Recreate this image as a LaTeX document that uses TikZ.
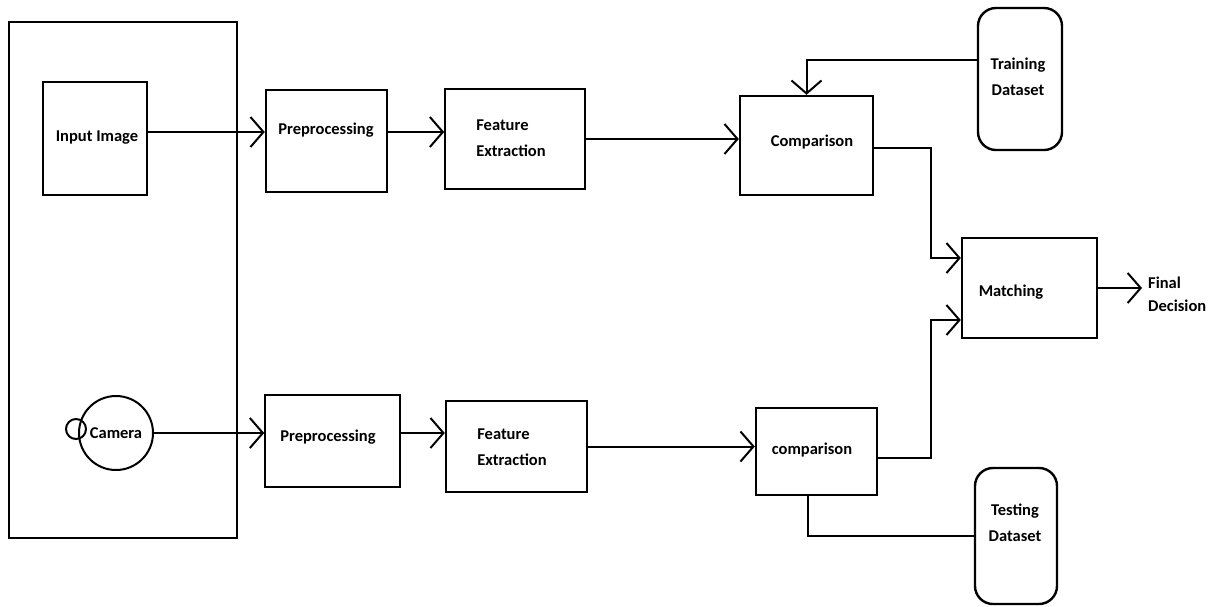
\documentclass[tikz,border=0pt]{standalone}
\usepackage{fontspec}
\setmainfont{Carlito}
\usetikzlibrary{arrows.meta,calc}
\begin{document}
\begin{tikzpicture}[x=1pt,y=-1pt,
 box/.style={draw,line width=2.4pt,inner sep=0pt},
 db/.style={draw,line width=2.4pt,rounded corners=18pt,inner sep=0pt},
 lbl/.style={font=\fontsize{16.5}{26}\selectfont\bfseries, align=left, inner sep=0pt},
 conn/.style={line width=2pt},
 arr/.style={line width=2pt,-{Straight Barb[length=13pt,width=30pt,line width=2pt]}}]
\useasboundingbox (0,0) rectangle (1215,606);
\fill[white] (0,0) rectangle (1215,606);
% boxes
\node[box,minimum width=228pt,minimum height=516pt] (outer) at (123,280) {};
\node[box,minimum width=104pt,minimum height=113pt] (inp) at (95,138.5) {};
\node[box,minimum width=121pt,minimum height=102pt] (pre1) at (326.5,141) {};
\node[box,line width=1.6pt,minimum width=140pt,minimum height=100pt] (feat1) at (515,139) {};
\node[box,minimum width=133pt,minimum height=99pt] (comp1) at (806.5,145.5) {};
\node[db,minimum width=84pt,minimum height=142pt] (train) at (1020,79) {};
\node[box,minimum width=135pt,minimum height=100pt] (match) at (1029.5,288) {};
\node[box,line width=1.6pt,minimum width=135pt,minimum height=92pt] (pre2) at (332.5,441) {};
\node[box,minimum width=141pt,minimum height=91pt] (feat2) at (516.5,446.5) {};
\node[box,minimum width=121pt,minimum height=87pt] (comp2) at (816.5,451.5) {};
\node[db,minimum width=82pt,minimum height=136pt] (test) at (1016,536) {};
\node[draw,circle,line width=2pt,minimum size=74pt,inner sep=0pt] (cam) at (116,433) {};
\node[draw,circle,line width=2pt,minimum size=20pt,inner sep=0pt] (lens) at (76,429) {};
% labels
\node[lbl] (tinp) at (97,138) {Input Image};
\node[lbl] (tpre1) at (326,130) {Preprocessing};
\node[lbl] (tfeat1) at (511,138) {Feature\\Extraction};
\node[lbl] (tcomp1) at (812,142) {Comparison};
\node[lbl,align=center] (ttrain) at (1018,77) {Training\\Dataset};
\node[lbl] (tmatch) at (1011,292) {Matching};
\node[lbl,anchor=west,font=\fontsize{16.5}{23}\selectfont\bfseries] (tfd) at (1148,294) {Final\\Decision};
\node[lbl] (tcam) at (116,433) {Camera};
\node[lbl] (tpre2) at (328,437) {Preprocessing};
\node[lbl] (tfeat2) at (512,447) {Feature\\Extraction};
\node[lbl] (tcomp2) at (812,450) {comparison};
\node[lbl,align=center] (ttest) at (1015,523) {Testing\\Dataset};
% connectors
\draw[arr] ([yshift=6.5pt]inp.east) -- ([yshift=6.5pt]inp.east -| pre1.west);
\draw[arr] ([yshift=9pt]pre1.east) -- ([yshift=9pt]pre1.east -| feat1.west);
\draw[arr] (feat1.east) -- (feat1.east -| comp1.west);
\draw[arr] ([yshift=19pt]train.west) -| (comp1.north);
\draw[arr] ([yshift=-2.5pt]comp1.east) -- ++(57,0) |- ([yshift=30pt]match.west);
\draw[arr] ([yshift=-6.5pt]comp2.east) -- ++(53,0) |- ([yshift=-32pt]match.west);
\draw[conn] ([xshift=-8.5pt]comp2.south) |- (test.west);
\draw[arr] (match.east) -- ([xshift=-6pt]match.east -| tfd.west);
\draw[arr] (cam.east) -- (cam.east -| pre2.west);
\draw[arr] ([yshift=8pt]pre2.east) -- ([yshift=8pt]pre2.east -| feat2.west);
\draw[arr] (feat2.east) -- (feat2.east -| comp2.west);
\end{tikzpicture}
\end{document}
